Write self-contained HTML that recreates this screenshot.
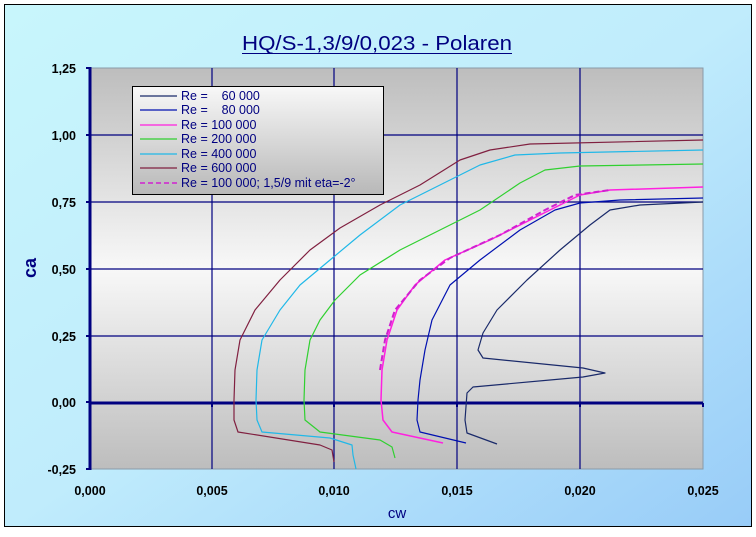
<!DOCTYPE html>
<html><head><meta charset="utf-8"><style>
body{margin:0;width:756px;height:532px;overflow:hidden;background:#fff}
</style></head><body>
<svg width="756" height="532" xmlns="http://www.w3.org/2000/svg" font-family="Liberation Sans, sans-serif">
<defs>
<linearGradient id="bg" x1="0" y1="0" x2="1" y2="1"><stop offset="0" stop-color="#c8f6fc"/><stop offset="0.5" stop-color="#c0ecfc"/><stop offset="1" stop-color="#98ccf8"/></linearGradient>
<linearGradient id="pa" x1="0" y1="0" x2="0" y2="1"><stop offset="0" stop-color="#bdbdbd"/><stop offset="0.5" stop-color="#f8f8f8"/><stop offset="1" stop-color="#bdbdbd"/></linearGradient>
<linearGradient id="lg" x1="0" y1="0" x2="0" y2="1"><stop offset="0" stop-color="#f8f8f8"/><stop offset="1" stop-color="#b8b8b8"/></linearGradient>
</defs>
<rect x="0" y="0" width="756" height="532" fill="#fff"/>
<rect x="4.5" y="4.5" width="747" height="522" fill="url(#bg)" stroke="#000" stroke-width="1"/>
<text x="242" y="50" font-size="20" fill="#000080" textLength="270" lengthAdjust="spacingAndGlyphs">HQ/S-1,3/9/0,023 - Polaren</text>
<line x1="242" y1="53.5" x2="512" y2="53.5" stroke="#000080" stroke-width="1"/>
<rect x="90" y="68" width="613" height="401" fill="url(#pa)" stroke="#8a9aa8" stroke-width="1"/>
<g stroke="#000080" stroke-width="1.2">
<line x1="212" y1="68" x2="212" y2="469"/><line x1="334" y1="68" x2="334" y2="469"/><line x1="457" y1="68" x2="457" y2="469"/><line x1="580" y1="68" x2="580" y2="469"/>
<line x1="90" y1="135" x2="703" y2="135"/><line x1="90" y1="202" x2="703" y2="202"/><line x1="90" y1="269" x2="703" y2="269"/><line x1="90" y1="336" x2="703" y2="336"/>
</g>
<line x1="90" y1="403" x2="703" y2="403" stroke="#000080" stroke-width="3"/>
<line x1="90" y1="67" x2="90" y2="470" stroke="#000080" stroke-width="3"/>
<g stroke="#000080" stroke-width="2">
<line x1="86" y1="68" x2="90" y2="68"/><line x1="86" y1="135" x2="90" y2="135"/><line x1="86" y1="202" x2="90" y2="202"/><line x1="86" y1="269" x2="90" y2="269"/><line x1="86" y1="336" x2="90" y2="336"/><line x1="86" y1="402" x2="90" y2="402"/><line x1="86" y1="469" x2="90" y2="469"/>
<line x1="212" y1="403" x2="212" y2="407"/><line x1="334" y1="403" x2="334" y2="407"/><line x1="457" y1="403" x2="457" y2="407"/><line x1="580" y1="403" x2="580" y2="407"/><line x1="703" y1="403" x2="703" y2="407"/>
</g>
<g font-size="12.5" font-weight="bold" fill="#000" text-anchor="end">
<text x="76" y="73">1,25</text><text x="76" y="140">1,00</text><text x="76" y="207">0,75</text><text x="76" y="274">0,50</text><text x="76" y="341">0,25</text><text x="76" y="407">0,00</text><text x="76" y="474">-0,25</text>
</g>
<g font-size="12.5" font-weight="bold" fill="#000" text-anchor="middle">
<text x="90" y="495">0,000</text><text x="212" y="495">0,005</text><text x="334" y="495">0,010</text><text x="457" y="495">0,015</text><text x="580" y="495">0,020</text><text x="703" y="495">0,025</text>
</g>
<text x="397" y="518" font-size="15" fill="#000080" text-anchor="middle">cw</text>
<text x="36" y="268" font-size="18" font-weight="bold" fill="#000080" text-anchor="middle" transform="rotate(-90 36 268)">ca</text>
<g fill="none" stroke-width="1.2" stroke-linejoin="round">
<polyline stroke="#1a2a6a" points="497,444 467,433 465,420 467,393 473,387 583,377 605,373 583,368 483,358 478,350 483,333 497,310 527,280 560,250 590,225 610,210 640,205 703,202"/>
<polyline stroke="#0010b0" points="466,443 420,432 417,420 418,400 420,380 425,350 432,320 450,285 480,260 520,230 555,210 580,203 620,200 703,198"/>
<polyline stroke="#ff20e0" stroke-width="1.5" points="443,443 392,432 383,420 381,400 382,370 387,340 397,310 415,285 445,260 490,240 540,215 580,195 610,190 703,187"/>
<polyline stroke="#d020d0" stroke-width="2" stroke-dasharray="6,3" points="380,370 385,340 395,310 420,280 450,258 500,235 545,210 575,195 610,190"/>
<polyline stroke="#30d030" points="395,458 392,447 380,440 320,432 305,420 304,400 305,370 310,340 320,320 335,300 360,275 400,250 440,230 480,210 520,183 545,170 580,166 703,164"/>
<polyline stroke="#20b8e8" points="356,469 353,455 352,445 330,438 262,432 257,420 256,400 257,370 262,340 280,310 300,285 330,260 360,235 400,205 440,185 480,165 515,155 560,153 703,150"/>
<polyline stroke="#802040" points="334,462 332,450 320,445 238,432 234,420 234,400 235,370 240,340 255,310 280,280 310,250 340,228 380,205 420,185 460,160 490,150 530,144 703,140"/>
</g>
<rect x="132.5" y="86.5" width="251" height="108" fill="url(#lg)" stroke="#000" stroke-width="1"/>
<g stroke-width="1.2">
<line x1="140" y1="96" x2="177" y2="96" stroke="#1a2a6a"/>
<line x1="140" y1="110" x2="177" y2="110" stroke="#0010b0"/>
<line x1="140" y1="125" x2="177" y2="125" stroke="#ff20e0"/>
<line x1="140" y1="139" x2="177" y2="139" stroke="#30d030"/>
<line x1="140" y1="154" x2="177" y2="154" stroke="#20b8e8"/>
<line x1="140" y1="168" x2="177" y2="168" stroke="#802040"/>
<line x1="140" y1="183" x2="177" y2="183" stroke="#d020d0" stroke-dasharray="5,3" stroke-width="1.6"/>
</g>
<g font-size="12.5" fill="#000080">
<text x="181" y="100">Re =&#160;&#160;&#160;&#160;60 000</text>
<text x="181" y="114">Re =&#160;&#160;&#160;&#160;80 000</text>
<text x="181" y="129">Re = 100 000</text>
<text x="181" y="143">Re = 200 000</text>
<text x="181" y="158">Re = 400 000</text>
<text x="181" y="172">Re = 600 000</text>
<text x="181" y="187">Re = 100 000; 1,5/9 mit eta=-2°</text>
</g>
</svg>
</body></html>
